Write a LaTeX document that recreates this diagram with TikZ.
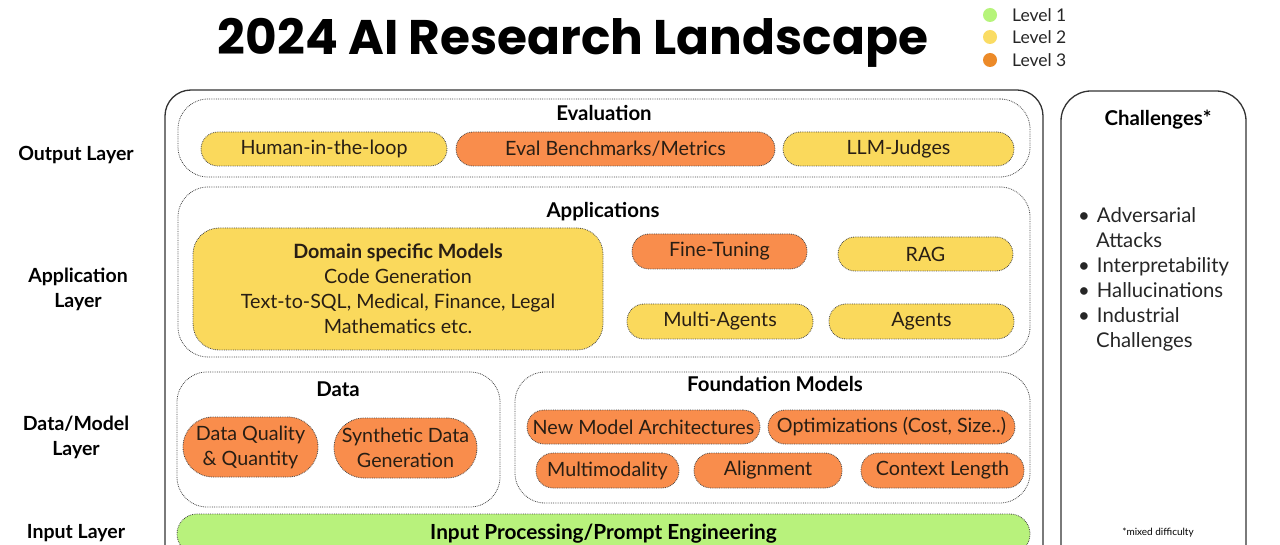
\documentclass[tikz,border=0pt]{standalone}
\usepackage{fontspec}
\setmainfont{Lato}
\newfontfamily\popfont{Poppins}
\usetikzlibrary{positioning}
\definecolor{yel}{RGB}{250,217,92}
\definecolor{org}{RGB}{249,141,76}
\definecolor{grn}{RGB}{184,242,124}
\definecolor{lgrn}{RGB}{182,244,122}
\definecolor{lyel}{RGB}{250,220,100}
\definecolor{lorg}{RGB}{236,138,40}
\definecolor{dotc}{RGB}{70,70,70}
\definecolor{txt}{RGB}{40,30,20}
\newcommand\fsz[2]{\fontsize{#1}{#2}\selectfont}
\tikzset{
  pill/.style={draw=dotc, densely dotted, line width=0.8pt, rounded corners=17pt, minimum height=34pt, inner sep=0pt, align=center, text=txt, font=\fsz{19.7}{25}},
  ylw/.style={pill, fill=yel},
  orng/.style={pill, fill=org},
  container/.style={draw=dotc, densely dotted, line width=0.8pt, rounded corners=30pt, inner sep=0pt},
  hdr/.style={font=\bfseries\fsz{20.4}{24}, text=black, inner sep=0pt},
  lbl/.style={font=\bfseries\fsz{19.5}{25}, align=center, text=black, inner sep=0pt},
  legdot/.style={circle, minimum size=14pt, inner sep=0pt},
  legtxt/.style={font=\fsz{17.5}{19}, anchor=west, inner sep=0pt, text=black!85},
}
\begin{document}
\begin{tikzpicture}[x=1pt,y=-1pt]
\useasboundingbox (0,0) rectangle (1280,545);
\clip (0,0) rectangle (1280,545);
\fill[white] (0,0) rectangle (1280,545);
% title
\node[font=\popfont\bfseries\fsz{48.6}{58}, inner sep=0pt] (title) at (573,43) {2024 AI Research Landscape};
% legend
\node[legdot, fill=lgrn] (d1) at (990,15) {};
\node[legdot, fill=lyel] (d2) at (990,37) {};
\node[legdot, fill=lorg] (d3) at (990,60) {};
\node[legtxt] (l1) at (1012,15) {Level 1};
\node[legtxt] (l2) at (1012,37) {Level 2};
\node[legtxt] (l3) at (1012,60) {Level 3};
% outer boxes
\node[draw=black!80, line width=1.3pt, rounded corners=26pt, minimum width=878pt, minimum height=490pt, inner sep=0pt] (outer) at (604,335) {};
\node[draw=black!80, line width=1.3pt, rounded corners=30pt, minimum width=185pt, minimum height=490pt, inner sep=0pt] (chal) at (1153.5,336) {};
% left labels
\node[lbl] (lo) at (76,155) {Output Layer};
\node[lbl] (la) at (78,289) {Application\\Layer};
\node[lbl] (ld) at (76,437) {Data/Model\\Layer};
\node[lbl] (li) at (76,533) {Input Layer};
% evaluation
\node[container, minimum width=852pt, minimum height=78pt] (evalbox) at (604,138) {};
\node[hdr] (evaltitle) at (604,113) {Evaluation};
\node[ylw, minimum width=246pt] (hitl) at (324,149) {Human-in-the-loop};
\node[orng, minimum width=319pt] (bench) at (615.5,149) {Eval Benchmarks/Metrics};
\node[ylw, minimum width=231pt] (judge) at (898.5,149) {LLM-Judges};
% applications
\node[container, minimum width=852pt, minimum height=170pt] (appbox) at (604,272) {};
\node[hdr] (apptitle) at (603,212) {Applications};
\node[ylw, rounded corners=26pt, minimum width=410pt, minimum height=122pt] (domain) at (398,289) {{\bfseries Domain specific Models}\\Code Generation\\Text-to-SQL, Medical, Finance, Legal\\Mathematics etc.};
\node[orng, minimum width=175pt, minimum height=35pt] (fine) at (719.5,251.5) {Fine-Tuning};
\node[ylw, minimum width=175pt] (rag) at (925.5,254) {RAG};
\node[ylw, minimum width=186pt, minimum height=35pt] (multi) at (720,321.5) {Multi-Agents};
\node[ylw, minimum width=185pt, minimum height=35pt] (agents) at (921.5,321.5) {Agents};
% data
\node[container, minimum width=323pt, minimum height=135pt] (databox) at (338.5,439.5) {};
\node[hdr] (datatitle) at (338,389) {Data};
\node[orng, rounded corners=30pt, minimum width=135pt, minimum height=60pt] (dq) at (250.5,447) {Data Quality\\\& Quantity};
\node[orng, rounded corners=30pt, minimum width=143pt, minimum height=60pt] (syn) at (405.5,448) {Synthetic Data\\Generation};
% foundation
\node[container, minimum width=515pt, minimum height=131pt] (foundbox) at (772.5,437.5) {};
\node[hdr] (foundtitle) at (775,384) {Foundation Models};
\node[orng, minimum width=233pt] (nma) at (643.5,427) {New Model Architectures};
\node[orng, minimum width=247pt] (opt) at (891.5,427) {Optimizations (Cost, Size..)};
\node[orng, minimum width=143pt, minimum height=35pt] (mm) at (607.5,470.5) {Multimodality};
\node[orng, minimum width=148pt, minimum height=35pt] (align) at (768,470.5) {Alignment};
\node[orng, minimum width=163pt, minimum height=35pt] (ctx) at (942.5,470.5) {Context Length};
% input
\node[pill, fill=grn, rounded corners=20pt, minimum width=853pt, minimum height=40pt, font=\bfseries\fsz{20.8}{24}, text=black] (input) at (603.5,534) {Input Processing/Prompt Engineering};
% challenges
\node[hdr] (chaltitle) at (1158,120) {Challenges*};
\node[font=\fsz{20.3}{25}, anchor=north west, align=left, inner sep=0pt, text=black!85] (chlist) at (1078,207) {%
\textbullet\hspace{7pt}Adversarial\\
\hspace{18pt}Attacks\\
\textbullet\hspace{7pt}Interpretability\\
\textbullet\hspace{7pt}Hallucinations\\
\textbullet\hspace{7pt}Industrial\\
\hspace{18pt}Challenges};
\node[font=\fsz{10}{12}, inner sep=0pt] (mixed) at (1158,533) {*mixed difficulty};
\end{tikzpicture}
\end{document}
